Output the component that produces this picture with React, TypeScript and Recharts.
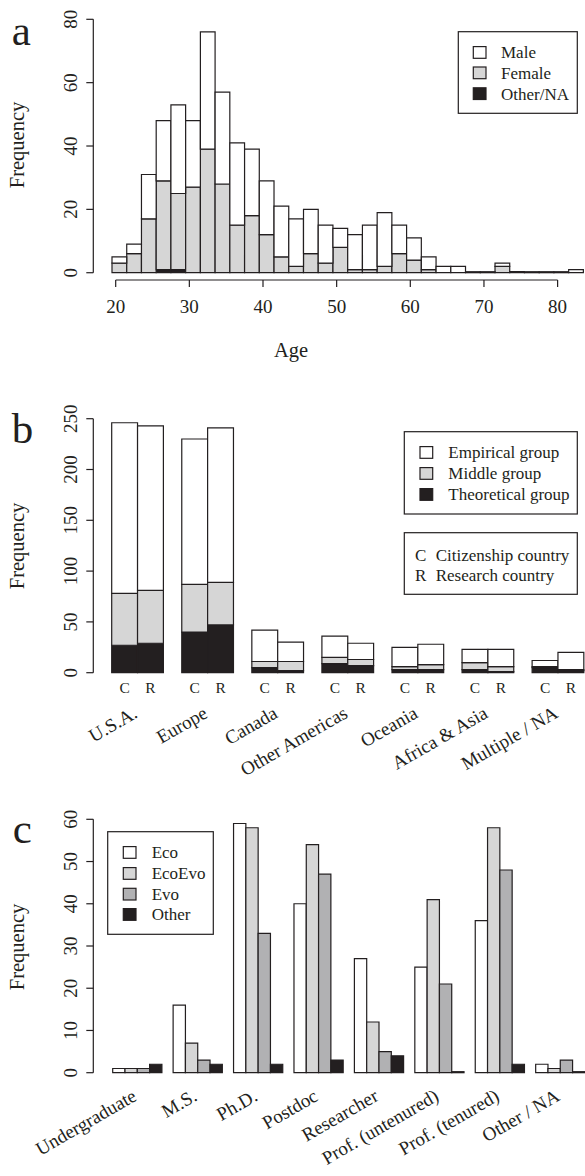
import React from 'react';
import { BarChart, Bar, XAxis, YAxis, ReferenceLine, LabelList } from 'recharts';

const SERIF = "'Liberation Serif', 'DejaVu Serif', serif";
const INK = '#231f20';
const LIGHT = '#d6d6d6';
const MIDGRAY = '#b1b1b3';

// panel a: age histogram, 2-year bins (midpoints)
const ageMid = [20.5, 22.5, 24.5, 26.5, 28.5, 30.5, 32.5, 34.5, 36.5, 38.5, 40.5, 42.5, 44.5, 46.5, 48.5, 50.5,
  52.5, 54.5, 56.5, 58.5, 60.5, 62.5, 64.5, 66.5, 68.5, 70.5, 72.5, 74.5, 76.5, 78.5, 80.5, 82.5];
const maleCounts = [2, 3, 14, 19, 28, 21, 37, 29, 26, 21, 17, 16, 15, 14, 12, 6, 11, 14, 17, 9, 7, 4, 2, 2, 0, 0, 1, 0, 0, 0, 0, 1];
const femaleCounts = [3, 6, 17, 28, 24, 27, 39, 28, 15, 18, 12, 5, 2, 6, 3, 8, 1, 1, 2, 6, 4, 1, 0, 0, 0, 0, 2, 0, 0, 0, 0, 0];
const otherNaCounts = [0, 0, 0, 1, 1, 0, 0, 0, 0, 0, 0, 0, 0, 0, 0, 0, 0, 0, 0, 0, 0, 0, 0, 0, 0, 0, 0, 0, 0, 0, 0, 0];
const ageTicks = [20, 30, 40, 50, 60, 70, 80];
const freqTicksA = [0, 20, 40, 60, 80];

// panel b: region, citizenship (C) vs research (R) country
const regions = ['U.S.A.', 'Europe', 'Canada', 'Other Americas', 'Oceania', 'Africa & Asia', 'Multiple / NA'];
const citTheo = [27, 40, 5, 9, 3, 3, 5];
const citMiddle = [51, 47, 6, 6, 3, 7, 1];
const citEmp = [168, 143, 31, 21, 19, 13, 6];
const resTheo = [29, 47, 2, 7, 3, 1, 2];
const resMiddle = [52, 42, 9, 6, 5, 5, 1];
const resEmp = [162, 152, 19, 16, 20, 17, 17];
const freqTicksB = [0, 50, 100, 150, 200, 250];

// panel c: career stage by field
const stages = ['Undergraduate', 'M.S.', 'Ph.D.', 'Postdoc', 'Researcher', 'Prof. (untenured)', 'Prof. (tenured)', 'Other / NA'];
const eco = [1, 16, 59, 40, 27, 25, 36, 2];
const ecoEvo = [1, 7, 58, 54, 12, 41, 58, 1];
const evo = [1, 3, 33, 47, 5, 21, 48, 3];
const otherField = [2, 2, 2, 3, 4, 0, 2, 0];
const freqTicksC = [0, 10, 20, 30, 40, 50, 60];

const ageData = ageMid.map((mid, i) => ({ mid, male: maleCounts[i], female: femaleCounts[i], other: otherNaCounts[i] }));
const regionData = regions.map((region, i) => ({
  region,
  cTheo: citTheo[i], cMid: citMiddle[i], cEmp: citEmp[i],
  rTheo: resTheo[i], rMid: resMiddle[i], rEmp: resEmp[i],
}));
const stageData = stages.map((stage, i) => ({ stage, eco: eco[i], ecoEvo: ecoEvo[i], evo: evo[i], other: otherField[i] }));

const serifStyle = { fontFamily: SERIF };

const YTick = (props: any) => {
  const { x, y, payload } = props;
  return (
    <g transform={`translate(${x},${y}) rotate(-90)`}>
      <text x={0} y={0} textAnchor="middle" style={serifStyle} fontSize={19} fill={INK}>
        {payload.value}
      </text>
    </g>
  );
};

const XNumTick = (props: any) => {
  const { x, y, payload } = props;
  return (
    <text x={x} y={y} dy="0.71em" textAnchor="middle" style={serifStyle} fontSize={19} fill={INK}>
      {payload.value}
    </text>
  );
};

const SlantTick = (props: any) => {
  const { x, y, payload, drop } = props;
  return (
    <g transform={`translate(${x + 1},${y + drop}) rotate(-30)`}>
      <text x={0} y={0} textAnchor="end" style={serifStyle} fontSize={19} fill={INK}>
        {payload.value}
      </text>
    </g>
  );
};

const barStyle = { stroke: INK, strokeWidth: 1.2, isAnimationActive: false };

function AgePanel() {
  return (
    <BarChart width={620} height={360} data={ageData} barSize={14.7} barGap={0}
      margin={{ top: 9.8, right: 17.9, bottom: 20, left: 33.3 }}>
      <XAxis xAxisId="bins" dataKey="mid" type="category" hide padding={{ left: 18.7, right: 18.7 }} />
      <XAxis xAxisId="age" dataKey="mid" type="number" domain={[16.96, 86.04]} allowDataOverflow ticks={ageTicks}
        interval={0} axisLine={false} tickSize={7} tickMargin={12.5} tickLine={{ stroke: INK, strokeWidth: 1.2 }}
        tick={<XNumTick />} height={60} />
      <YAxis domain={[-2.3, 83]} allowDataOverflow ticks={freqTicksA} interval={0} axisLine={false} tickSize={7}
        tickMargin={9.3} tickLine={{ stroke: INK, strokeWidth: 1.2 }} tick={<YTick />} width={60} />
      <Bar xAxisId="bins" dataKey="other" stackId="g" fill={INK} {...barStyle} />
      <Bar xAxisId="bins" dataKey="female" stackId="g" fill={LIGHT} {...barStyle} />
      <Bar xAxisId="bins" dataKey="male" stackId="g" fill="#ffffff" minPointSize={1} {...barStyle} />
      <ReferenceLine xAxisId="age" segment={[{ x: 20, y: -2.3 }, { x: 80, y: -2.3 }]} stroke={INK} strokeWidth={1.2} ifOverflow="visible" />
      <ReferenceLine xAxisId="age" segment={[{ x: 16.96, y: 0 }, { x: 16.96, y: 80 }]} stroke={INK} strokeWidth={1.2} ifOverflow="visible" />
    </BarChart>
  );
}

function RegionPanel() {
  return (
    <BarChart width={603.2} height={400} data={regionData} barSize={25.85} barGap={0}
      margin={{ top: 18.7, right: 10, bottom: 67.3, left: 33.3 }}>
      <XAxis dataKey="region" type="category" padding={{ left: 9.4, right: 0 }} axisLine={false} tickLine={false}
        tickSize={0} tickMargin={0} interval={0} height={60} tick={<SlantTick drop={44} />} />
      <YAxis domain={[0, 250]} ticks={freqTicksB} interval={0} axisLine={{ stroke: INK, strokeWidth: 1.2 }} tickSize={7}
        tickMargin={9.3} tickLine={{ stroke: INK, strokeWidth: 1.2 }} tick={<YTick />} width={60} />
      <Bar dataKey="cTheo" stackId="C" fill={INK} {...barStyle}>
        <LabelList dataKey="cTheo" position="bottom" offset={9} formatter={() => 'C'} fill={INK} fontSize={15.5} style={serifStyle} />
      </Bar>
      <Bar dataKey="cMid" stackId="C" fill={LIGHT} {...barStyle} />
      <Bar dataKey="cEmp" stackId="C" fill="#ffffff" {...barStyle} />
      <Bar dataKey="rTheo" stackId="R" fill={INK} {...barStyle}>
        <LabelList dataKey="rTheo" position="bottom" offset={9} formatter={() => 'R'} fill={INK} fontSize={15.5} style={serifStyle} />
      </Bar>
      <Bar dataKey="rMid" stackId="R" fill={LIGHT} {...barStyle} />
      <Bar dataKey="rEmp" stackId="R" fill="#ffffff" {...barStyle} />
    </BarChart>
  );
}

function StagePanel() {
  return (
    <BarChart width={600} height={376} data={stageData} barSize={12.3} barGap={0}
      margin={{ top: 19.3, right: 9.9, bottom: 43.3, left: 33.3 }}>
      <XAxis dataKey="stage" type="category" padding={{ left: 13.4, right: 0 }} axisLine={false} tickLine={false}
        tickSize={0} tickMargin={0} interval={0} height={60} tick={<SlantTick drop={27} />} />
      <YAxis domain={[0, 60]} ticks={freqTicksC} interval={0} axisLine={{ stroke: INK, strokeWidth: 1.2 }} tickSize={7}
        tickMargin={9.3} tickLine={{ stroke: INK, strokeWidth: 1.2 }} tick={<YTick />} width={60} />
      <Bar dataKey="eco" fill="#ffffff" minPointSize={1} {...barStyle} />
      <Bar dataKey="ecoEvo" fill={LIGHT} minPointSize={1} {...barStyle} />
      <Bar dataKey="evo" fill={MIDGRAY} minPointSize={1} {...barStyle} />
      <Bar dataKey="other" fill={INK} minPointSize={1} {...barStyle} />
    </BarChart>
  );
}

const txt = { style: serifStyle, fill: INK };

function LegendBox({ x, y, w, h, squareX, textX, rows }: any) {
  return (
    <g>
      <rect x={x} y={y} width={w} height={h} fill="#ffffff" stroke={INK} strokeWidth={1.2} />
      {rows.map((r: any) => (
        <g key={r.label}>
          {r.fill && (
            <rect x={squareX} y={r.base - 11.7} width={12.7} height={11.7} fill={r.fill} stroke={INK} strokeWidth={1.2} />
          )}
          {r.key && <text x={squareX} y={r.base} fontSize={17} {...txt}>{r.key}</text>}
          <text x={textX} y={r.base} fontSize={17} {...txt}>{r.label}</text>
        </g>
      ))}
    </g>
  );
}

function Overlay() {
  return (
    <svg width={585} height={1176} style={{ position: 'absolute', left: 0, top: 0, pointerEvents: 'none' }}>
      <text x={11.7} y={45} fontSize={43} {...txt}>a</text>
      <text x={11.7} y={442.7} fontSize={43} {...txt}>b</text>
      <text x={12.7} y={843.3} fontSize={43} {...txt}>c</text>

      <g transform="translate(24,145) rotate(-90)"><text textAnchor="middle" fontSize={20.5} {...txt}>Frequency</text></g>
      <g transform="translate(24,546) rotate(-90)"><text textAnchor="middle" fontSize={20.5} {...txt}>Frequency</text></g>
      <g transform="translate(24,947) rotate(-90)"><text textAnchor="middle" fontSize={20.5} {...txt}>Frequency</text></g>
      <text x={291} y={357} textAnchor="middle" fontSize={20.5} {...txt}>Age</text>

      <LegendBox x={458.3} y={31.7} w={119} h={81.6} squareX={473.3} textX={501}
        rows={[
          { label: 'Male', fill: '#ffffff', base: 58.3 },
          { label: 'Female', fill: LIGHT, base: 78.7 },
          { label: 'Other/NA', fill: INK, base: 99.5 },
        ]} />
      <LegendBox x={404.3} y={431.7} w={173} h={82.3} squareX={420} textX={448.3}
        rows={[
          { label: 'Empirical group', fill: '#ffffff', base: 458.3 },
          { label: 'Middle group', fill: LIGHT, base: 479.3 },
          { label: 'Theoretical group', fill: INK, base: 500.3 },
        ]} />
      <LegendBox x={404.3} y={532.7} w={173} h={61.6} squareX={415} textX={435.7}
        rows={[
          { label: 'Citizenship country', key: 'C', base: 560.7 },
          { label: 'Research country', key: 'R', base: 580.7 },
        ]} />
      <LegendBox x={107.7} y={831.7} w={105.6} h={102.6} squareX={123.3} textX={151.7}
        rows={[
          { label: 'Eco', fill: '#ffffff', base: 858.3 },
          { label: 'EcoEvo', fill: LIGHT, base: 879.3 },
          { label: 'Evo', fill: MIDGRAY, base: 900 },
          { label: 'Other', fill: INK, base: 920.3 },
        ]} />
    </svg>
  );
}

export default function App() {
  return (
    <div style={{ position: 'absolute', left: 0, top: 0, width: 585, height: 1176, overflow: 'hidden', background: '#ffffff', fontFamily: SERIF }}>
      <div style={{ position: 'absolute', left: 0, top: 0 }}><AgePanel /></div>
      <div style={{ position: 'absolute', left: 0, top: 400 }}><RegionPanel /></div>
      <div style={{ position: 'absolute', left: 0, top: 800 }}><StagePanel /></div>
      <Overlay />
    </div>
  );
}
